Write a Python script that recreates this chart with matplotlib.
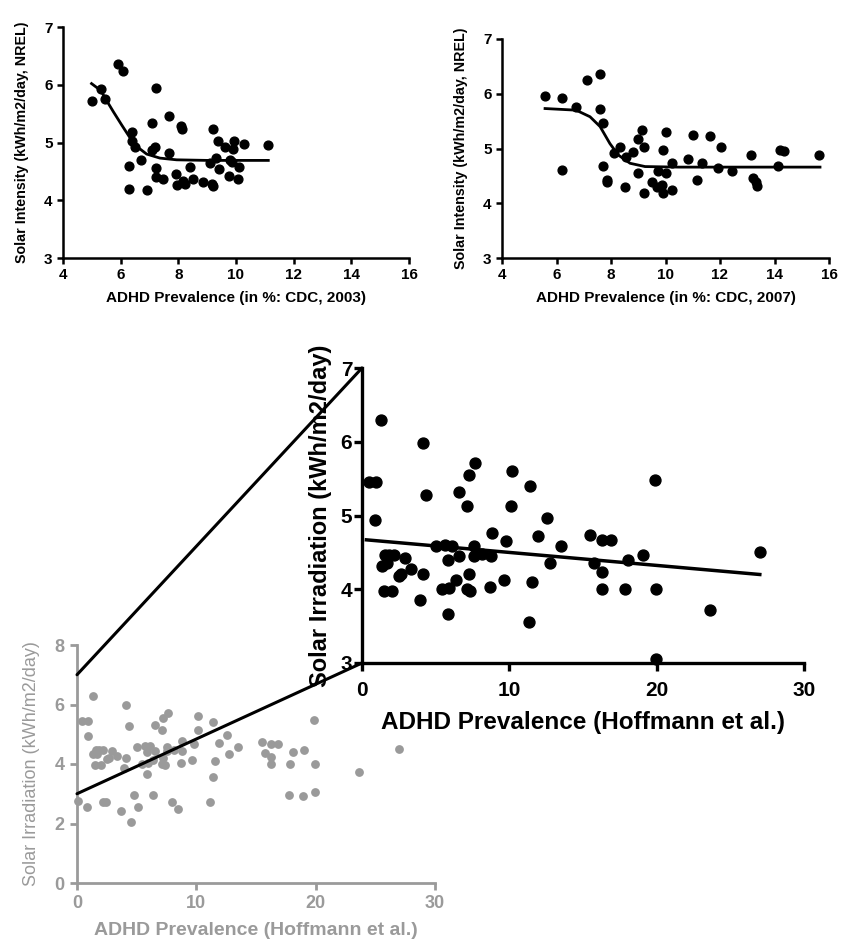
import matplotlib
matplotlib.use('Agg')
import matplotlib.pyplot as plt
from matplotlib.patches import ConnectionPatch
import numpy as np

plt.rcParams['font.family'] = ['Liberation Sans', 'DejaVu Sans']

# ── Data ─────────────────────────────────────────────────────────────────────
# CDC 2003
x03 = [4.99, 5.31, 5.46, 5.92, 6.09, 7.21, 7.08, 7.69, 8.09, 8.11, 6.38, 6.38,
       6.50, 7.19, 7.08, 7.69, 6.69, 6.30, 6.30, 6.90, 7.23, 7.23, 7.48, 7.92,
       7.94, 8.23, 8.15, 8.40, 8.50, 8.87, 9.19, 9.19, 9.16, 9.10, 9.30, 9.39,
       9.42, 9.62, 9.94, 9.89, 9.79, 9.85, 9.77, 10.12, 10.08, 10.29, 11.11]
y03 = [5.72, 5.92, 5.75, 6.36, 6.24, 5.94, 5.33, 5.46, 5.29, 5.24, 5.19, 5.03,
       4.93, 4.93, 4.87, 4.82, 4.70, 4.59, 4.19, 4.18, 4.55, 4.41, 4.37, 4.45,
       4.26, 4.29, 4.34, 4.58, 4.36, 4.32, 5.23, 4.24, 4.28, 4.64, 4.74, 5.03,
       4.54, 4.93, 5.03, 4.88, 4.70, 4.67, 4.42, 4.58, 4.36, 4.97, 4.96]
fit03_x = [4.99, 5.31, 5.46, 5.75, 6.04, 6.30, 6.56, 6.90, 7.36, 7.94, 9.0, 10.0, 11.12]
fit03_y = [6.02, 5.90, 5.77, 5.53, 5.30, 5.10, 4.93, 4.80, 4.73, 4.70, 4.69, 4.69, 4.69]

# CDC 2007
x07 = [5.58, 6.19, 6.19, 6.72, 7.11, 7.60, 7.60, 7.72, 7.72, 7.84, 7.86, 8.11,
       8.33, 8.55, 8.51, 8.82, 9.00, 9.13, 9.22, 9.00, 9.21, 9.49, 9.74, 9.68,
       9.86, 9.92, 10.02, 9.92, 10.02, 10.23, 10.23, 10.84, 11.02, 11.15, 11.33,
       11.63, 11.94, 12.03, 12.43, 13.13, 13.22, 13.32, 13.34, 14.14, 14.22,
       14.35, 15.64]
y07 = [5.96, 5.92, 4.61, 5.76, 6.25, 6.36, 5.72, 5.47, 4.68, 4.42, 4.38, 4.91,
       5.02, 4.84, 4.29, 4.94, 5.17, 5.34, 5.03, 4.55, 4.18, 4.39, 4.58, 4.30,
       4.33, 4.18, 4.55, 4.97, 5.31, 4.25, 4.74, 4.80, 5.25, 4.42, 4.73, 5.23,
       4.64, 5.03, 4.58, 4.89, 4.47, 4.39, 4.32, 4.68, 4.98, 4.96, 4.88]
fit07_x = [5.58, 6.72, 7.23, 7.60, 7.96, 8.27, 8.70, 9.25, 10.5, 12.0, 14.0, 15.67]
fit07_y = [5.73, 5.70, 5.58, 5.40, 5.09, 4.88, 4.73, 4.67, 4.66, 4.66, 4.66, 4.66]

# Hoffmann et al.
xh = [1.31, 0.45, 0.95, 0.90, 4.12, 4.37, 1.58, 2.15, 1.36, 1.70, 1.86, 2.94,
      3.35, 2.49, 2.67, 1.47, 2.04, 4.12, 3.96, 5.02, 5.66, 6.11, 5.84, 6.56,
      5.43, 5.93, 6.38, 5.84, 6.56, 7.24, 7.65, 7.15, 7.24, 7.13, 7.35, 7.58,
      7.58, 8.15, 8.78, 8.83, 8.71, 9.78, 9.62, 10.18, 10.14, 11.43, 11.54,
      11.36, 11.93, 12.56, 12.74, 13.51, 15.48, 16.27, 16.88, 15.75, 16.27,
      16.27, 17.85, 18.08, 19.06, 19.89, 19.96, 19.96, 23.62, 27.02,
      0.11, 0.87, 2.15, 2.43, 3.66, 4.50, 4.78, 5.14, 6.40, 7.99, 8.49, 11.15,
      17.80, 18.97]
yh = [6.29, 5.46, 5.46, 4.94, 5.98, 5.28, 4.46, 4.46, 4.32, 4.35, 4.46, 4.43,
      4.28, 4.18, 4.21, 3.98, 3.97, 4.21, 3.86, 4.58, 4.60, 4.59, 4.40, 4.45,
      4.01, 4.02, 4.12, 3.66, 5.32, 5.55, 5.71, 5.13, 4.21, 4.01, 3.97, 4.58,
      4.45, 4.48, 4.45, 4.76, 4.03, 4.66, 4.13, 5.60, 5.13, 5.40, 4.10, 3.55,
      4.72, 4.96, 4.35, 4.58, 4.74, 4.67, 4.67, 4.36, 4.24, 4.01, 4.01, 4.39,
      4.47, 5.48, 4.01, 3.06, 3.72, 4.50,
      2.77, 2.57, 2.73, 2.73, 2.42, 2.06, 2.96, 2.57, 2.96, 2.73, 2.49, 2.73,
      2.96, 2.91]
reg_x = [0.3, 27.0]
reg_y = [4.67, 4.20]

GRAY = '#9a9a9a'
W, H = 841, 944

fig = plt.figure(figsize=(W / 100, H / 100), dpi=100)


def add_ax(left, top, right, bottom):
    return fig.add_axes([left / W, 1 - bottom / H, (right - left) / W, (bottom - top) / H])


def style(ax, color, lw, ticklen, fs, pad=3):
    for s in ('top', 'right'):
        ax.spines[s].set_visible(False)
    for s in ('left', 'bottom'):
        ax.spines[s].set_linewidth(lw)
        ax.spines[s].set_color(color)
    ax.tick_params(direction='out', length=ticklen, width=lw, color=color,
                   labelcolor=color, labelsize=fs, pad=pad)
    for lab in ax.get_xticklabels() + ax.get_yticklabels():
        lab.set_fontweight('bold')


# ── Top panels ───────────────────────────────────────────────────────────────
for (l, t, r, b), xs, ys, fx, fy, year in [
        ((63, 27, 409, 258), x03, y03, fit03_x, fit03_y, 2003),
        ((502, 39, 829, 258), x07, y07, fit07_x, fit07_y, 2007)]:
    ax = add_ax(l, t, r, b)
    ax.scatter(xs, ys, s=40, color='black', clip_on=False, zorder=3)
    ax.plot(fx, fy, color='black', lw=2, solid_joinstyle='round', zorder=4)
    ax.set_xlim(4, 16)
    ax.set_ylim(3, 7)
    ax.set_xticks(range(4, 17, 2))
    ax.set_yticks(range(3, 8))
    style(ax, 'black', 1.8, 4.5, 11)
    ax.set_xlabel(f'ADHD Prevalence (in %: CDC, {year})', fontsize=11,
                  fontweight='bold', labelpad=6)
    ax.set_ylabel('Solar Intensity (kWh/m2/day, NREL)', fontsize=10.3,
                  fontweight='bold', labelpad=11)

# ── Gray full-range panel ────────────────────────────────────────────────────
ax_g = add_ax(77, 645, 435, 883)
ax_g.scatter(xh, yh, s=40, color=GRAY, clip_on=False, zorder=3, linewidths=0)
ax_g.set_xlim(0, 30)
ax_g.set_ylim(0, 8)
ax_g.set_xticks([0, 10, 20, 30])
ax_g.set_yticks([0, 2, 4, 6, 8])
style(ax_g, GRAY, 2.0, 5, 13, pad=4)
ax_g.set_xlabel('ADHD Prevalence (Hoffmann et al.)', fontsize=14, fontweight='bold',
                color=GRAY, labelpad=7)
ax_g.set_ylabel('Solar Irradiation (kWh/m2/day)', fontsize=13, color=GRAY, labelpad=10)

# ── Zoomed panel ─────────────────────────────────────────────────────────────
ax_m = add_ax(362, 368, 804, 663)
xh_a, yh_a = np.array(xh), np.array(yh)
keep = yh_a >= 3
ax_m.scatter(xh_a[keep], yh_a[keep], s=62, color='black', clip_on=False, zorder=3)
ax_m.plot(reg_x, reg_y, color='black', lw=2.5, zorder=4)
ax_m.set_xlim(0, 30)
ax_m.set_ylim(3, 7)
ax_m.set_xticks([0, 10, 20, 30])
ax_m.set_yticks(range(3, 8))
style(ax_m, 'black', 2.4, 6, 15, pad=7)
ax_m.tick_params(axis='y', pad=1)
ax_m.set_xlabel('ADHD Prevalence (Hoffmann et al.)', fontsize=17.5, fontweight='bold',
                labelpad=8)
ax_m.set_ylabel('Solar Irradiation (kWh/m2/day)', fontsize=17, fontweight='bold',
                labelpad=6)

# zoom connector lines between the gray panel and the enlarged one
y_lo, y_hi = ax_m.get_ylim()
for yv in (y_hi, y_lo):
    con = ConnectionPatch(xyA=(0, yv), coordsA=ax_g.transData,
                          xyB=(0, yv), coordsB=ax_m.transData,
                          color='black', lw=2.2, zorder=10)
    fig.add_artist(con)

fig.savefig('out.png', dpi=100, facecolor='white')
